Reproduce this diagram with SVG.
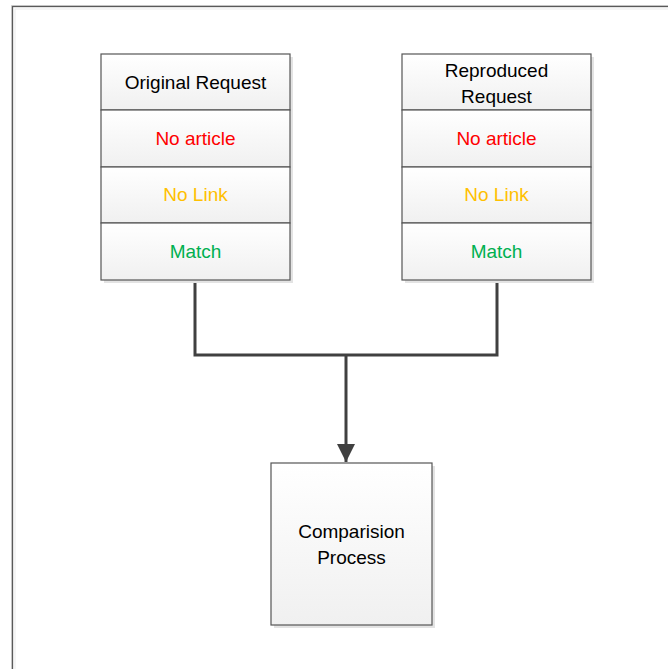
<svg xmlns="http://www.w3.org/2000/svg" width="668" height="669" viewBox="0 0 668 669">
<style>
.box{fill:url(#g);stroke:#555;stroke-width:1.2}
.sh{fill:#e3e3e3}
text{font-family:"Liberation Sans",Arial,sans-serif;font-size:19px;text-anchor:middle}
.k{fill:#000}.r{fill:#ff0000}.y{fill:#ffc000}.gr{fill:#00b050}
.conn{fill:none;stroke:#404040;stroke-width:3}
</style>
<defs>
<linearGradient id="g" x1="0" y1="0" x2="0" y2="1"><stop offset="0" stop-color="#ffffff"/><stop offset="1" stop-color="#f0f0f0"/></linearGradient>
<marker id="arr" markerUnits="userSpaceOnUse" markerWidth="20" markerHeight="20" refX="18" refY="9" orient="auto"><path d="M0,0 L18,9 L0,18 Z" fill="#404040"/></marker>
</defs>
<rect x="0" y="0" width="668" height="669" fill="#fff"/>
<g id="frame">
<rect x="11.5" y="5.5" width="700" height="700" fill="none" stroke="#d8d8d8" stroke-width="1"/>
<rect x="12.5" y="6.5" width="700" height="700" fill="none" stroke="#5a5a5a" stroke-width="1.3"/>
<rect x="15" y="9" width="700" height="700" fill="none" stroke="#ececec" stroke-width="1"/>
</g>
<g id="connectors">
<polyline class="conn" points="195,280 195,355 497,355 497,280"/>
<line class="conn" x1="346" y1="355" x2="346" y2="462" marker-end="url(#arr)"/>
</g>
<g id="original">
<rect class="sh" x="104" y="57" width="189" height="226"/>
<rect class="box" x="101" y="54" width="189" height="56"/>
<rect class="box" x="101" y="110" width="189" height="57"/>
<rect class="box" x="101" y="167" width="189" height="56"/>
<rect class="box" x="101" y="223" width="189" height="57"/>
<text class="k" x="195.5" y="89">Original Request</text>
<text class="r" x="195.5" y="145">No article</text>
<text class="y" x="195.5" y="201">No Link</text>
<text class="gr" x="195.5" y="258">Match</text>
</g>
<g id="reproduced">
<rect class="sh" x="405" y="57" width="189" height="226"/>
<rect class="box" x="402" y="54" width="189" height="56"/>
<rect class="box" x="402" y="110" width="189" height="57"/>
<rect class="box" x="402" y="167" width="189" height="56"/>
<rect class="box" x="402" y="223" width="189" height="57"/>
<text class="k" x="496.5" y="77">Reproduced</text>
<text class="k" x="496.5" y="103">Request</text>
<text class="r" x="496.5" y="145">No article</text>
<text class="y" x="496.5" y="201">No Link</text>
<text class="gr" x="496.5" y="258">Match</text>
</g>
<g id="comparision">
<rect class="sh" x="274" y="466" width="161" height="162"/>
<rect class="box" x="271" y="463" width="161" height="162"/>
<text class="k" x="351.5" y="538">Comparision</text>
<text class="k" x="351.5" y="564">Process</text>
</g>
</svg>
